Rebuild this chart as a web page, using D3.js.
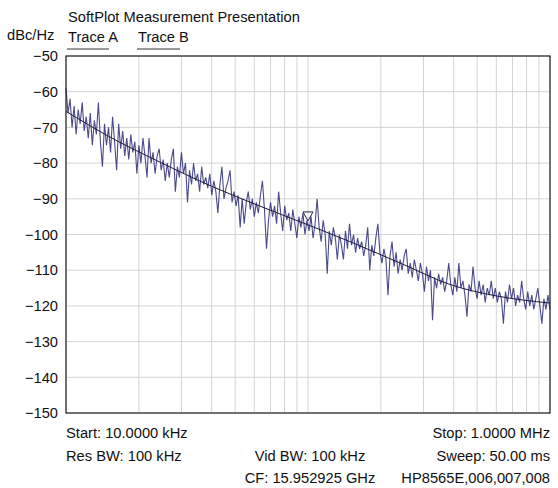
<!DOCTYPE html>
<html lang="en">
<head>
<meta charset="utf-8">
<title>SoftPlot Measurement Presentation</title>
<script src="https://cdn.jsdelivr.net/npm/d3@7"></script>
<style>
  body { margin: 0; background: #fff; }
  svg text { font-family: "Liberation Sans", Arial, sans-serif; fill: #111; }
</style>
</head>
<body>
<div id="chart"></div>
<script>
  // sweep settings
  const startFreq = 10e3, stopFreq = 1e6;
  const yTicks = [-50, -60, -70, -80, -90, -100, -110, -120, -130, -140, -150];
  const xGrid = [10e3, 20e3, 30e3, 40e3, 50e3, 60e3, 70e3, 80e3, 90e3, 100e3,
                 200e3, 300e3, 400e3, 500e3, 600e3, 700e3, 800e3, 900e3, 1e6];

  const traceA = [
    -59, -66, -62, -70, -64, -72, -65, -69, -63, -71,
    -67, -73, -66, -75, -68, -72, -63, -74, -81, -69,
    -75, -70, -77, -67, -74, -82, -69, -76, -71, -78,
    -73, -79, -72, -77, -74, -83, -75, -80, -73, -78,
    -84, -73, -80, -77, -83, -78, -76, -82, -79, -85,
    -80, -84, -79, -76, -88, -81, -84, -77, -83, -80,
    -91, -82, -86, -80, -85, -83, -88, -81, -86, -84,
    -87, -83, -89, -85, -88, -94, -86, -81, -90, -87,
    -85, -82, -91, -88, -92, -89, -98, -90, -97, -91,
    -88, -93, -90, -95, -91, -94, -89, -85, -93, -104,
    -96, -91, -95, -92, -97, -88, -94, -99, -92, -96,
    -94, -99, -93, -97, -101, -95, -98, -94, -100, -96,
    -99, -95, -101, -97, -90, -98, -102, -96, -100, -111,
    -99, -103, -98, -101, -107, -100, -103, -107, -99, -104,
    -97, -103, -100, -105, -101, -104, -102, -106, -103, -98,
    -110, -103, -106, -101, -97, -105, -108, -104, -107, -117,
    -106, -102, -109, -105, -111, -107, -110, -106, -104, -111,
    -108, -112, -107, -110, -113, -108, -111, -116, -109, -113,
    -110, -124, -112, -115, -111, -114, -112, -116, -113, -108,
    -114, -117, -112, -116, -108, -115, -113, -117, -123, -114,
    -116, -109, -115, -118, -113, -117, -114, -119, -115, -117,
    -113, -118, -115, -119, -116, -118, -125, -116, -119, -114,
    -118, -115, -120, -117, -119, -113, -118, -121, -116, -120,
    -117, -121, -118, -115, -120, -125, -118, -121, -117, -121
  ];

  // smoothed trace
  const traceBFreq = [10e3, 15e3, 24.4e3, 40e3, 60.4e3, 100e3, 149e3, 250e3, 386e3, 600e3, 1e6];
  const traceB = [-65.5, -72.5, -79.7, -86.5, -91.5, -97.3, -102, -108.5, -114, -117.2, -119.2];

  const markerFreq = 100e3, markerValue = -96.2;

  const width = 558, height = 488;
  const margin = { top: 56, right: 8, bottom: 75, left: 66 };
  const plotW = width - margin.left - margin.right;
  const plotH = height - margin.top - margin.bottom;
  const fs = 14.7;

  const svg = d3.select('#chart').append('svg')
    .attr('width', width).attr('height', height);

  const x = d3.scaleLog().domain([startFreq, stopFreq]).range([0, plotW]);
  const y = d3.scaleLinear().domain([-150, -50]).range([plotH, 0]);

  const g = svg.append('g').attr('transform', `translate(${margin.left},${margin.top})`);

  // grid
  g.append('g').selectAll('line').data(xGrid).join('line')
    .attr('x1', d => x(d)).attr('x2', d => x(d))
    .attr('y1', 0).attr('y2', plotH)
    .attr('stroke', '#d4d4d4').attr('stroke-width', 1);
  g.append('g').selectAll('line').data(yTicks).join('line')
    .attr('x1', 0).attr('x2', plotW)
    .attr('y1', d => y(d)).attr('y2', d => y(d))
    .attr('stroke', '#d4d4d4').attr('stroke-width', 1);

  // y labels
  const yAxis = d3.axisLeft(y).tickValues(yTicks).tickSize(0).tickPadding(8);
  const ya = g.append('g').call(yAxis);
  ya.select('.domain').remove();
  ya.selectAll('text').attr('font-size', fs).style('fill', '#111');

  // traces
  const sweepFreq = traceA.map((v, i) => startFreq * Math.pow(stopFreq / startFreq, i / (traceA.length - 1)));
  const lineA = d3.line().x((d, i) => x(sweepFreq[i])).y(d => y(d));
  g.append('path').datum(traceA)
    .attr('d', lineA).attr('fill', 'none')
    .attr('stroke', '#2a2a78').attr('stroke-width', 1.1).attr('stroke-opacity', 0.85);

  const lineB = d3.line().curve(d3.curveMonotoneX).x((d, i) => x(traceBFreq[i])).y(d => y(d));
  g.append('path').datum(traceB)
    .attr('d', lineB).attr('fill', 'none')
    .attr('stroke', '#1a1a3a').attr('stroke-width', 1);

  // marker
  const mx = x(markerFreq), my = y(markerValue);
  g.append('path')
    .attr('d', `M${mx - 5},${my - 9}L${mx + 5},${my - 9}L${mx},${my}Z`)
    .attr('fill', 'none').attr('stroke', '#222244').attr('stroke-width', 1);

  // frame
  g.append('rect').attr('width', plotW).attr('height', plotH)
    .attr('fill', 'none').attr('stroke', '#222').attr('stroke-width', 1.2);

  // header
  svg.append('text').attr('x', 68).attr('y', 22).attr('font-size', fs).text('SoftPlot Measurement Presentation');
  svg.append('text').attr('x', 7).attr('y', 40).attr('font-size', fs).text('dBc/Hz');
  svg.append('text').attr('x', 68).attr('y', 42).attr('font-size', fs).text('Trace A');
  svg.append('text').attr('x', 138).attr('y', 42).attr('font-size', fs).text('Trace B');
  svg.append('line').attr('x1', 67).attr('x2', 109).attr('y1', 49).attr('y2', 49).attr('stroke', '#333');
  svg.append('line').attr('x1', 137).attr('x2', 180).attr('y1', 49).attr('y2', 49).attr('stroke', '#333');

  // footer
  const right = margin.left + plotW;
  const foot = [
    { t: 'Start: 10.0000 kHz', x: 66, y: 438, a: 'start' },
    { t: 'Stop: 1.0000 MHz', x: right, y: 438, a: 'end' },
    { t: 'Res BW: 100 kHz', x: 66, y: 461, a: 'start' },
    { t: 'Vid BW: 100 kHz', x: 310, y: 461, a: 'middle' },
    { t: 'Sweep: 50.00 ms', x: right, y: 461, a: 'end' },
    { t: 'CF: 15.952925 GHz', x: 310, y: 483, a: 'middle' },
    { t: 'HP8565E,006,007,008', x: right, y: 483, a: 'end' }
  ];
  svg.append('g').selectAll('text').data(foot).join('text')
    .attr('x', d => d.x).attr('y', d => d.y)
    .attr('text-anchor', d => d.a).attr('font-size', fs)
    .text(d => d.t);
</script>
</body>
</html>
